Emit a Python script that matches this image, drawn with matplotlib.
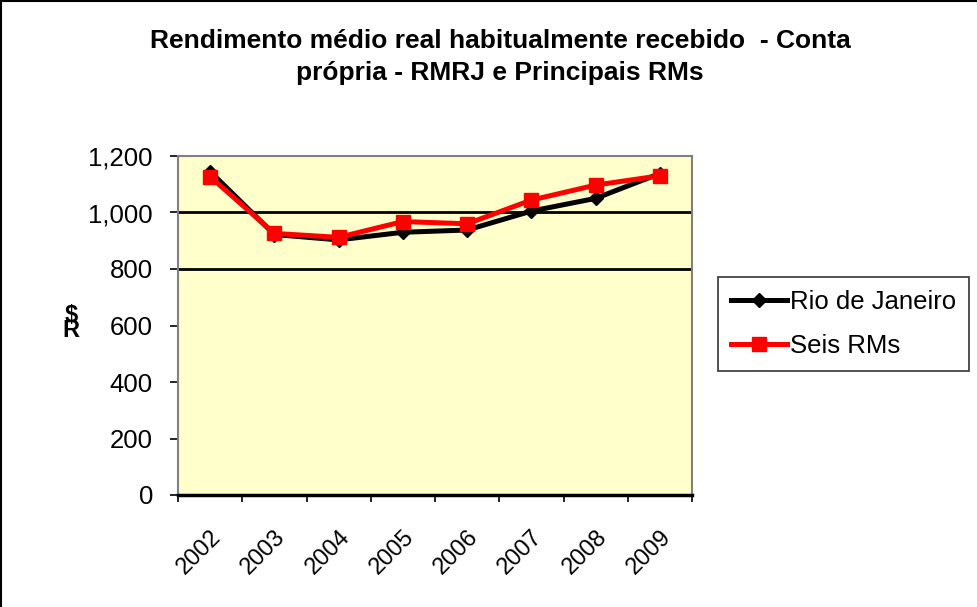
import numpy as np
import matplotlib
matplotlib.use('Agg')
import matplotlib.pyplot as plt
from matplotlib.lines import Line2D

plt.rcParams['font.family'] = ['Liberation Sans', 'DejaVu Sans']

# dados
anos = ['2002', '2003', '2004', '2005', '2006', '2007', '2008', '2009']
rio = [1145, 922, 903, 930, 938, 1005, 1050, 1138]
seis_rms = [1127, 926, 912, 968, 960, 1044, 1097, 1130]
y_ticks = [0, 200, 400, 600, 800, 1000, 1200]
grid_vals = [800, 1000]

fig = plt.figure(figsize=(9.77, 6.07), dpi=100)
ax = fig.add_axes([178/977, 1 - 495/607, (692 - 178)/977, (495 - 156)/607])
ax.set_facecolor('#FFFFCC')

x = np.arange(len(anos))
for g in grid_vals:
    ax.axhline(g, color='black', lw=2, zorder=1)

ax.plot(x, rio, color='black', lw=3.6, marker='D', markersize=7,
        label='Rio de Janeiro', zorder=3)
ax.plot(x, seis_rms, color='red', lw=3.6, marker='s', markersize=10.5,
        label='Seis RMs', zorder=4)

ax.set_xlim(-0.5, len(anos) - 0.5)
ax.set_ylim(0, 1200)
ax.set_yticks(y_ticks)
ax.set_yticklabels(['{:,}'.format(v) for v in y_ticks], fontsize=18.5)
ax.set_xticks(x)
ax.set_xticklabels(anos, fontsize=17, rotation=45, ha='right',
                   rotation_mode='anchor')
ax.set_xticks(np.arange(-0.5, len(anos)), minor=True)
ax.tick_params(axis='x', which='major', length=0, pad=22)
ax.tick_params(axis='x', which='minor', length=5, width=1.2, color='black')
ax.tick_params(axis='y', length=6, width=1.2, pad=12)

for s in ['left', 'top', 'right']:
    ax.spines[s].set_color('#808080')
    ax.spines[s].set_linewidth(1.5)
ax.spines['bottom'].set_color('black')
ax.spines['bottom'].set_linewidth(2.5)

fig.text(71/977, 1 - 323/607, '\\$\nR', fontsize=17, fontweight='bold',
         ha='center', va='center', linespacing=0.55)

fig.text(500/977, 1 - 57/607,
         'Rendimento médio real habitualmente recebido  - Conta\nprópria - RMRJ e Principais RMs',
         fontsize=19, fontweight='bold', ha='center', va='center', linespacing=1.4)

leg = fig.legend(loc='upper left', bbox_to_anchor=(718/977, 1 - 277/607),
                 fontsize=18.5, frameon=True, fancybox=False, handlelength=2.2,
                 handletextpad=0.12, borderpad=0.5, labelspacing=0.8,
                 borderaxespad=0)
leg.get_frame().set_edgecolor('black')
leg.get_frame().set_linewidth(1.2)

# borda do grafico (esquerda e topo)
fig.add_artist(Line2D([0.001, 0.001], [0, 1], color='black', lw=1.5,
                      transform=fig.transFigure))
fig.add_artist(Line2D([0, 1], [0.998, 0.998], color='black', lw=1.5,
                      transform=fig.transFigure))

fig.savefig('out.png', dpi=100)
